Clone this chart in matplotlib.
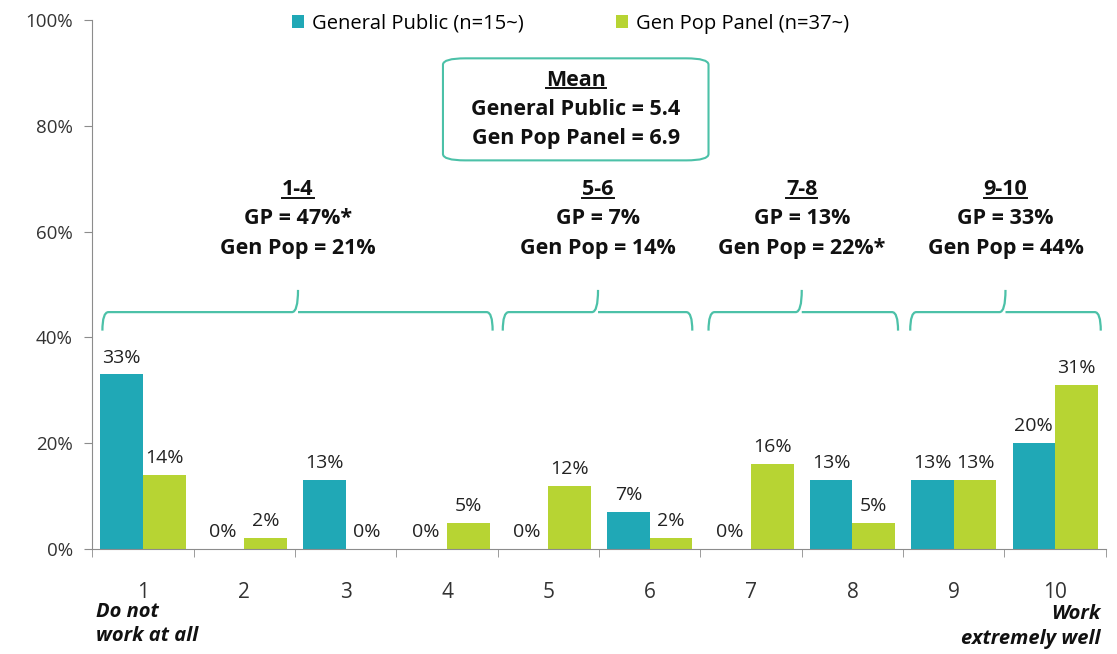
import matplotlib.pyplot as plt
from matplotlib.patches import FancyBboxPatch, PathPatch
from matplotlib.path import Path
from matplotlib.lines import Line2D
import numpy as np

plt.rcParams['font.family'] = ['Open Sans', 'DejaVu Sans']

categories = ['1', '2', '3', '4', '5', '6', '7', '8', '9', '10']
general_public = [33, 0, 13, 0, 0, 7, 0, 13, 13, 20]
gen_pop_panel = [14, 2, 0, 5, 12, 2, 16, 5, 13, 31]
series_names = ['General Public (n=15~)', 'Gen Pop Panel (n=37~)']

groups = ['1-4', '5-6', '7-8', '9-10']
group_gp = ['GP = 47%*', 'GP = 7%', 'GP = 13%', 'GP = 33%']
group_pop = ['Gen Pop = 21%', 'Gen Pop = 14%', 'Gen Pop = 22%*', 'Gen Pop = 44%']
# brace spans (left, tip, right) in category units
brace_spans = [(-0.40, 1.53, 3.45), (3.55, 4.49, 5.42),
               (5.58, 6.50, 7.45), (7.57, 8.51, 9.45)]

mean_lines = ['General Public = 5.4', 'Gen Pop Panel = 6.9']

teal = '#20A8B6'
green = '#B7D433'
brace_col = '#4CC1A8'
gray = '#8C8C8C'
ink = '#111111'

fig = plt.figure(figsize=(11.17, 6.54), dpi=100)
ax = fig.add_axes([0.0826, 0.1606, 0.9074, 0.8084])

x = np.arange(len(categories))
w = 0.42
b1 = ax.bar(x - w / 2, general_public, w, color=teal, label=series_names[0])
b2 = ax.bar(x + w / 2, gen_pop_panel, w, color=green, label=series_names[1])

for bars, vals in ((b1, general_public), (b2, gen_pop_panel)):
    for r, v in zip(bars, vals):
        ax.text(r.get_x() + r.get_width() / 2, v + 1.5, f'{v}%',
                ha='center', va='bottom', fontsize=14, color='#222222')

ax.set_xlim(-0.5, len(categories) - 0.5)
ax.set_ylim(0, 100)
ax.set_yticks(range(0, 101, 20))
ax.set_yticklabels([f'{t}%' for t in range(0, 101, 20)], fontsize=13.5, color='#333333')
ax.set_xticks(x)
ax.set_xticklabels(categories, fontsize=15, color='#333333')
ax.set_xticks(np.arange(-0.5, len(categories)), minor=True)
ax.tick_params(axis='x', which='major', length=0, pad=24)
ax.tick_params(axis='x', which='minor', length=6, color=gray, direction='out')
ax.tick_params(axis='y', length=6, color=gray, direction='out', pad=8)
for s in ('top', 'right'):
    ax.spines[s].set_visible(False)
ax.spines['left'].set_color(gray)
ax.spines['bottom'].set_color(gray)

# end-point descriptions
ax.text(-0.46, -10.0, 'Do not\nwork at all', ha='left', va='top', fontsize=14.5,
        fontweight='bold', fontstyle='italic', linespacing=1.3, color=ink)
ax.text(9.45, -10.5, 'Work\nextremely well', ha='right', va='top', fontsize=14.5,
        fontweight='bold', fontstyle='italic', linespacing=1.3,
        multialignment='right', color=ink)

# braces over the score groups
y_end, y_bar, y_tip = 41.3, 44.8, 49.0
c = 0.06
for (x0, xc, x1) in brace_spans:
    verts = [(x0, y_end), (x0, y_bar), (x0 + c, y_bar),
             (xc - c, y_bar), (xc, y_bar), (xc, y_tip),
             (xc, y_bar), (xc + c, y_bar),
             (x1 - c, y_bar), (x1, y_bar), (x1, y_end)]
    codes = [Path.MOVETO, Path.CURVE3, Path.CURVE3,
             Path.LINETO, Path.CURVE3, Path.CURVE3,
             Path.MOVETO, Path.CURVE3,
             Path.LINETO, Path.CURVE3, Path.CURVE3]
    ax.add_patch(PathPatch(Path(verts, codes), fill=False, ec=brace_col, lw=1.6,
                           clip_on=False))


def bold_label(xp, yp, s, underline=False):
    t = ax.text(xp, yp, s, ha='center', va='center', fontsize=15.5,
                fontweight='bold', color=ink)
    if underline:
        fig.canvas.draw()
        bb = t.get_window_extent().transformed(ax.transData.inverted())
        ax.add_line(Line2D([bb.x0, bb.x1], [bb.y0 + 0.5, bb.y0 + 0.5],
                           color=ink, lw=1.4))
    return t


for name, gp, pop, (x0, xc, x1) in zip(groups, group_gp, group_pop, brace_spans):
    bold_label(xc, 67.9, name, underline=True)
    bold_label(xc, 62.6, gp)
    bold_label(xc, 56.9, pop)

# mean box
box = FancyBboxPatch((2.96, 73.5), 2.62, 19.3,
                     boxstyle='round,pad=0,rounding_size=0.22',
                     mutation_aspect=5.5, fc='white', ec=brace_col, lw=1.5)
ax.add_patch(box)
bold_label(4.27, 88.7, 'Mean', underline=True)
bold_label(4.27, 83.2, mean_lines[0])
bold_label(4.27, 77.6, mean_lines[1])

ax.legend(loc='center', bbox_to_anchor=(0.472, 0.993), ncol=2, frameon=False,
          fontsize=14.5, handlelength=0.6, handleheight=0.6, handletextpad=0.4,
          columnspacing=4.6)

fig.savefig('out.png', dpi=100)
